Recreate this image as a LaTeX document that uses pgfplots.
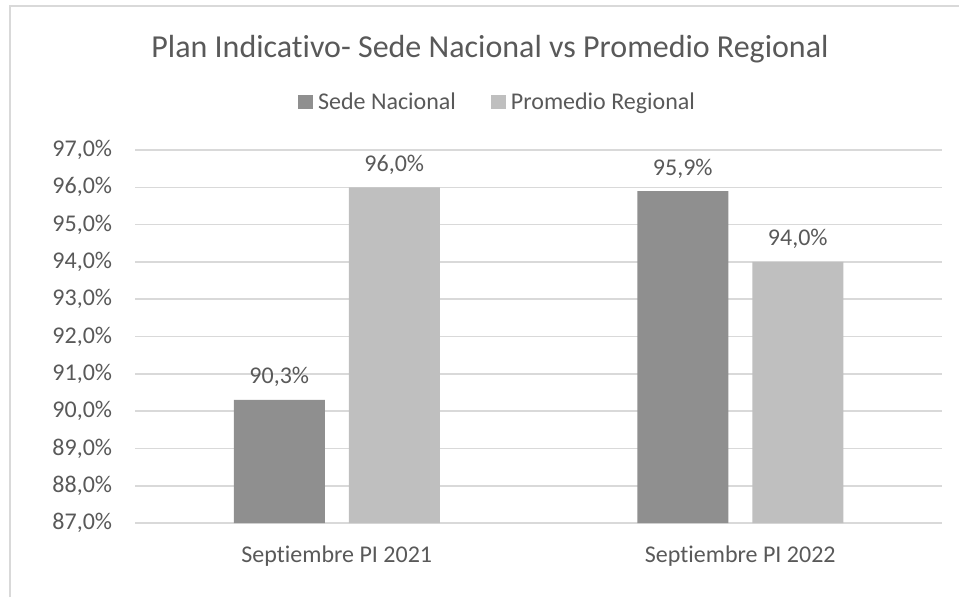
\documentclass[border=0pt]{standalone}
\usepackage{pgfplots}
\pgfplotsset{compat=1.18}
\usepackage{fontspec}
\setmainfont{Carlito}[Ligatures=NoCommon]
\definecolor{darkbar}{HTML}{8F8F8F}
\definecolor{lightbar}{HTML}{BFBFBF}
\definecolor{txt}{HTML}{595959}
\definecolor{gridc}{HTML}{D9D9D9}
\begin{document}
\begin{tikzpicture}
\useasboundingbox (0,0) rectangle (719.25pt,447.75pt);
\draw[gridc, line width=1.5pt] (7.5pt,0) -- (7.5pt,443.25pt) -- (719.25pt,443.25pt);
\node[text=txt, font=\fontsize{24}{28}\selectfont] at (367.5pt,411pt) {Plan Indicativo- Sede Nacional vs Promedio Regional};
\begin{axis}[
  at={(101.25pt,55.5pt)}, anchor=south west,
  scale only axis, width=605.25pt, height=279.75pt,
  xmin=-0.5, xmax=1.5, ymin=87, ymax=97,
  ytick={87,88,89,90,91,92,93,94,95,96,97},
  xtick={0,1}, xticklabels={Septiembre PI 2021, Septiembre PI 2022},
  /pgf/number format/assume math mode=true,
  yticklabel={\pgfmathprintnumber[fixed,fixed zerofill,precision=1,use comma]{\tick}\%},
  ybar=18pt, bar width=68.25pt,
  axis line style={draw=none}, major tick style={draw=none},
  ymajorgrids, major grid style={gridc, line width=1.2pt},
  ticklabel style={font=\fontsize{18}{21}\selectfont, text=txt},
  yticklabel style={inner sep=0pt, xshift=-17pt},
  xticklabel style={inner sep=0pt, yshift=-13pt},
  nodes near coords={\pgfmathprintnumber[fixed,fixed zerofill,precision=1,use comma]{\pgfplotspointmeta}\%},
  nodes near coords style={font=\fontsize{18}{21}\selectfont, text=txt, anchor=base, inner sep=0pt, yshift=12pt},
  legend columns=2,
  legend style={at={(0.4486,1.1287)}, anchor=center, draw=none, fill=none,
    font=\fontsize{18}{21}\selectfont, text=txt,
    nodes={inner sep=1pt},
    /tikz/every odd column/.append style={column sep=3pt},
    /tikz/every even column/.append style={column sep=25pt}},
]
\addplot[fill=darkbar, draw=none, legend image code/.code={\fill[darkbar] (0pt,-5.6pt) rectangle (11.25pt,5.6pt);}] coordinates {(0,90.3) (1,95.9)};
\addplot[fill=lightbar, draw=none, legend image code/.code={\fill[lightbar] (0pt,-5.6pt) rectangle (11.25pt,5.6pt);}] coordinates {(0,96.0) (1,94.0)};
\legend{Sede Nacional, Promedio Regional}
\end{axis}
\end{tikzpicture}
\end{document}
